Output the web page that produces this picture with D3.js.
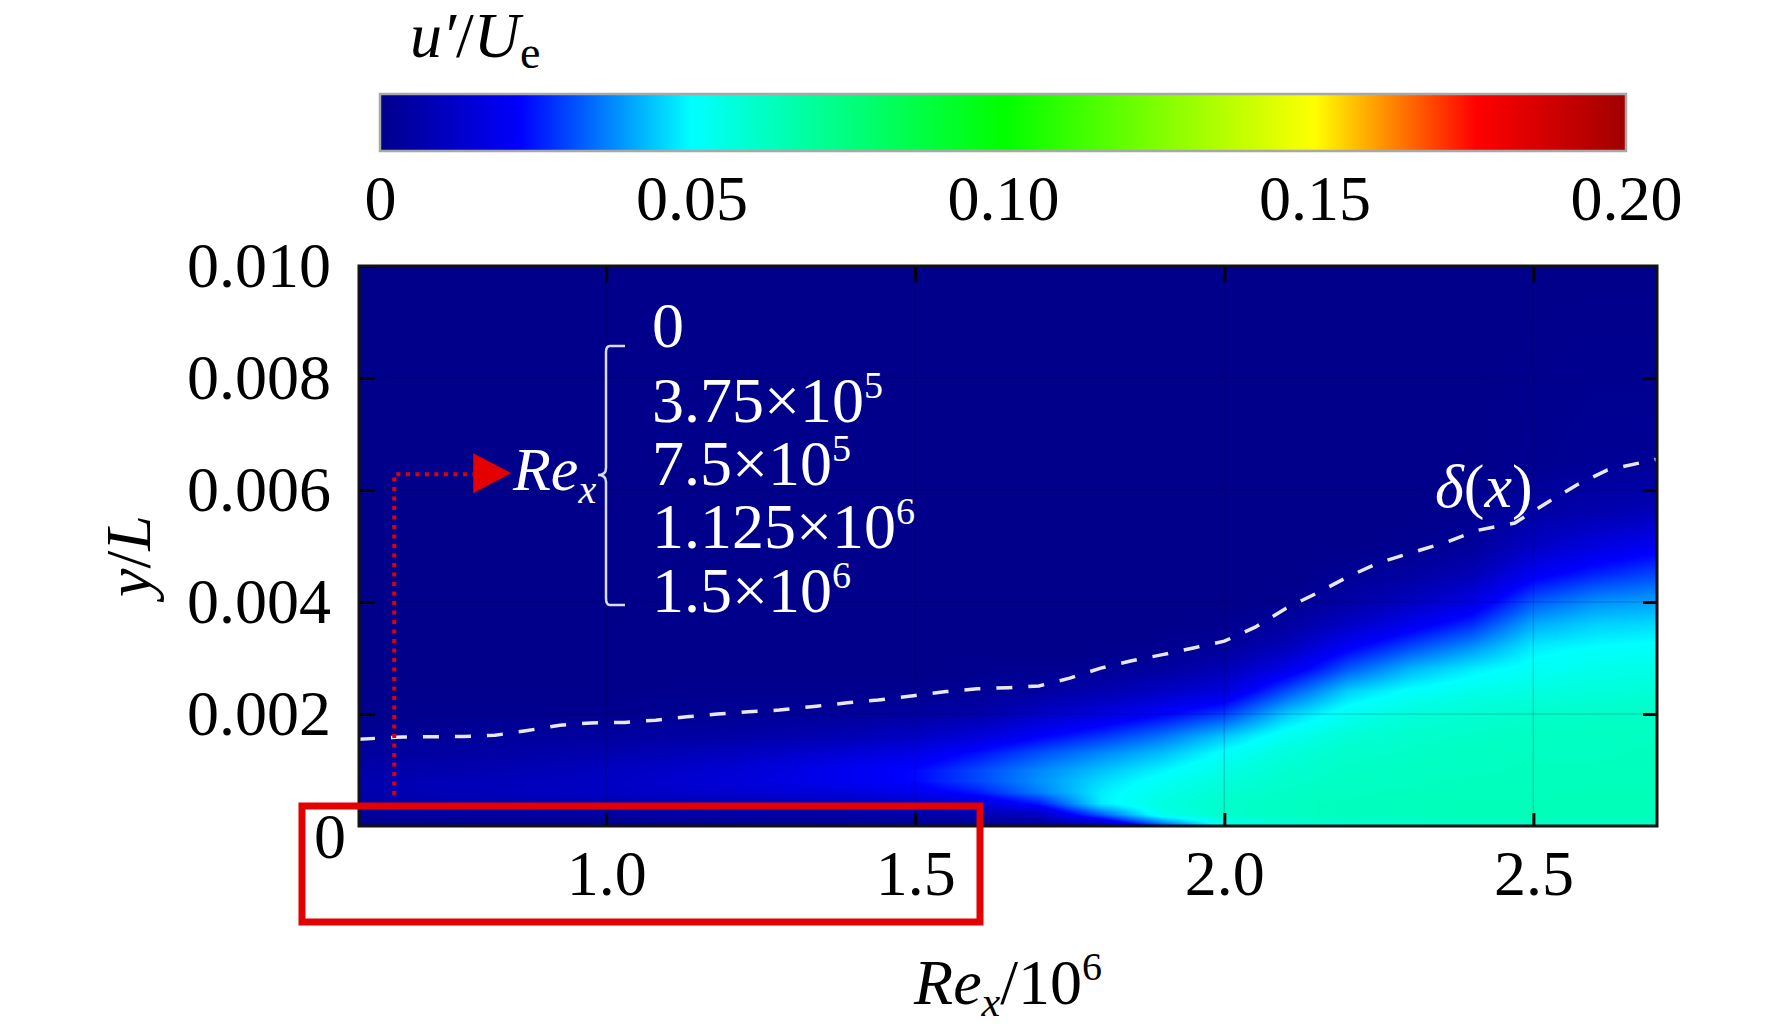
<!DOCTYPE html>
<html>
<head>
<meta charset="utf-8">
<script src="https://cdn.jsdelivr.net/npm/d3@7"></script>
<style>
  html, body { margin: 0; padding: 0; background: #fff; }
  svg { display: block; font-family: "Liberation Serif", "Times New Roman", serif; }
</style>
</head>
<body>
<script>
const width = 1772
const height = 1035

// colour map of u'/Ue
const colorStops = [0, 0.0225, 0.05, 0.10, 0.15, 0.176, 0.20]
const colorHex = ['#00008a', '#0000ff', '#00ffff', '#00ff00', '#ffff00', '#ff0000', '#a00000']
const colorTicks = [0, 0.05, 0.10, 0.15, 0.20]

// axes
const xTicks = [1.0, 1.5, 2.0, 2.5]
const yTicks = [0.002, 0.004, 0.006, 0.008, 0.010]

// field u'/Ue: one profile per Re_x station, values at yLevels
const reStations = [0.6, 0.8, 1.0, 1.2, 1.4, 1.5, 1.6, 1.7, 1.8, 1.9, 2.0, 2.1, 2.2, 2.3, 2.4, 2.5, 2.6, 2.7]
const yLevels = [0, 0.0002, 0.0004, 0.0006, 0.0008, 0.001, 0.0013, 0.0016, 0.002, 0.0024,
  0.0028, 0.0032, 0.0036, 0.004, 0.0045, 0.005, 0.0056, 0.0065, 0.01]
const profiles = [
  [0.001, 0.003, 0.006, 0.007, 0.007, 0.006, 0.004, 0.002, 0.001, 0, 0, 0, 0, 0, 0, 0, 0, 0, 0],
  [0.001, 0.004, 0.007, 0.009, 0.009, 0.007, 0.005, 0.003, 0.001, 0, 0, 0, 0, 0, 0, 0, 0, 0, 0],
  [0.001, 0.004, 0.008, 0.011, 0.011, 0.010, 0.007, 0.004, 0.001, 0, 0, 0, 0, 0, 0, 0, 0, 0, 0],
  [0.001, 0.005, 0.009, 0.013, 0.015, 0.014, 0.010, 0.005, 0.002, 0.001, 0, 0, 0, 0, 0, 0, 0, 0, 0],
  [0.002, 0.005, 0.010, 0.016, 0.020, 0.020, 0.015, 0.008, 0.003, 0.001, 0, 0, 0, 0, 0, 0, 0, 0, 0],
  [0.002, 0.006, 0.012, 0.019, 0.023, 0.023, 0.018, 0.011, 0.004, 0.001, 0, 0, 0, 0, 0, 0, 0, 0, 0],
  [0.002, 0.007, 0.015, 0.025, 0.030, 0.030, 0.024, 0.015, 0.006, 0.002, 0.001, 0, 0, 0, 0, 0, 0, 0, 0],
  [0.003, 0.010, 0.025, 0.036, 0.038, 0.037, 0.031, 0.022, 0.011, 0.004, 0.001, 0, 0, 0, 0, 0, 0, 0, 0],
  [0.006, 0.032, 0.048, 0.048, 0.046, 0.043, 0.037, 0.028, 0.016, 0.007, 0.002, 0, 0, 0, 0, 0, 0, 0, 0],
  [0.030, 0.054, 0.056, 0.054, 0.052, 0.049, 0.043, 0.035, 0.022, 0.011, 0.004, 0.001, 0, 0, 0, 0, 0, 0, 0],
  [0.052, 0.060, 0.060, 0.059, 0.057, 0.055, 0.051, 0.044, 0.029, 0.016, 0.008, 0.003, 0.001, 0, 0, 0, 0, 0, 0],
  [0.056, 0.062, 0.062, 0.061, 0.060, 0.059, 0.057, 0.053, 0.044, 0.031, 0.018, 0.009, 0.004, 0.001, 0, 0, 0, 0, 0],
  [0.058, 0.063, 0.063, 0.062, 0.062, 0.061, 0.060, 0.058, 0.053, 0.045, 0.032, 0.021, 0.011, 0.005, 0.002, 0, 0, 0, 0],
  [0.059, 0.063, 0.063, 0.063, 0.062, 0.062, 0.061, 0.060, 0.057, 0.051, 0.042, 0.030, 0.019, 0.010, 0.004, 0.001, 0, 0, 0],
  [0.060, 0.064, 0.064, 0.063, 0.063, 0.062, 0.062, 0.061, 0.059, 0.054, 0.048, 0.038, 0.027, 0.017, 0.008, 0.003, 0.001, 0, 0],
  [0.060, 0.064, 0.064, 0.063, 0.063, 0.063, 0.062, 0.062, 0.060, 0.056, 0.052, 0.048, 0.041, 0.032, 0.020, 0.011, 0.005, 0.001, 0],
  [0.060, 0.064, 0.064, 0.064, 0.063, 0.063, 0.062, 0.062, 0.061, 0.057, 0.054, 0.050, 0.045, 0.038, 0.026, 0.016, 0.007, 0.002, 0],
  [0.060, 0.064, 0.064, 0.064, 0.063, 0.063, 0.063, 0.062, 0.061, 0.058, 0.055, 0.051, 0.046, 0.040, 0.030, 0.020, 0.009, 0.002, 0]
]

// boundary layer thickness delta(x)
const deltaRe = [0.6, 0.67, 0.77, 0.82, 0.87, 0.925, 0.975, 1.03, 1.08, 1.13, 1.18, 1.23, 1.28, 1.34,
  1.39, 1.44, 1.5, 1.55, 1.6, 1.65, 1.7, 1.75, 1.8, 1.85, 1.9, 1.95, 2.0, 2.05, 2.1, 2.15, 2.2,
  2.25, 2.3, 2.36, 2.41, 2.47, 2.52, 2.57, 2.62, 2.7]
const deltaY = [0.00155, 0.00159, 0.0016, 0.00162, 0.0017, 0.0018, 0.00184, 0.00185, 0.00189, 0.00195,
  0.002, 0.00204, 0.00207, 0.00214, 0.0022, 0.00225, 0.00233, 0.0024, 0.00245, 0.00247, 0.0025,
  0.00264, 0.00282, 0.00295, 0.00306, 0.00318, 0.0033, 0.00355, 0.00389, 0.00416, 0.00445, 0.0047,
  0.00487, 0.00507, 0.00528, 0.00541, 0.00576, 0.00609, 0.00636, 0.00655]

// Re_x stations listed in the annotation
const legendLines = [
  { mant: '0', exp: '' },
  { mant: '3.75×10', exp: '5' },
  { mant: '7.5×10', exp: '5' },
  { mant: '1.125×10', exp: '6' },
  { mant: '1.5×10', exp: '6' }
]
const probeRe = 0.657
const probeY = 0.0063

const plot = { left: 359, right: 1657, top: 266, bottom: 826 }
const bar = { left: 380, right: 1626, top: 94, bottom: 151 }
const fontSize = 64
const serif = '"Liberation Serif", "Times New Roman", serif'

const svg = d3.select('body').append('svg')
  .attr('width', width)
  .attr('height', height)
svg.append('rect').attr('width', width).attr('height', height).attr('fill', '#fff')

const x = d3.scaleLinear().domain([0.6, 2.7]).range([plot.left, plot.right])
const y = d3.scaleLinear().domain([0, 0.01]).range([plot.bottom, plot.top])
const color = d3.scaleLinear().domain(colorStops).range(colorHex).interpolate(d3.interpolateRgb).clamp(true)
const cbar = d3.scaleLinear().domain([0, 0.2]).range([bar.left, bar.right])

// ---- colour bar
const grad = svg.append('defs').append('linearGradient')
  .attr('id', 'cgrad')
  .attr('x1', '0%').attr('x2', '100%')
grad.selectAll('stop').data(colorStops).enter().append('stop')
  .attr('offset', d => (d / 0.2 * 100) + '%')
  .attr('stop-color', d => color(d))
svg.append('rect')
  .attr('x', cbar(0)).attr('y', bar.top)
  .attr('width', cbar(0.2) - cbar(0)).attr('height', bar.bottom - bar.top)
  .attr('fill', 'url(#cgrad)')
  .attr('stroke', '#a8a8a8').attr('stroke-width', 2.5)

function styleAxis(g) {
  g.attr('font-family', serif).attr('font-size', fontSize)
  g.select('.domain').remove()
  g.selectAll('line').attr('stroke', '#000').attr('stroke-width', 3)
  g.selectAll('text').attr('fill', '#000')
}

svg.append('g')
  .attr('transform', `translate(0,${bar.bottom})`)
  .call(d3.axisBottom(cbar).tickValues(colorTicks).tickSize(0).tickPadding(24)
    .tickFormat(d => d === 0 ? '0' : d3.format('.2f')(d)))
  .call(styleAxis)

const title = svg.append('text').attr('x', 410).attr('y', 57).attr('font-size', fontSize)
title.append('tspan').attr('font-style', 'italic').text('u′')
title.append('tspan').text('/')
title.append('tspan').attr('font-style', 'italic').text('U')
title.append('tspan').attr('font-size', 46).attr('dy', 11).text('e')

// ---- contour field
function fieldAt(re, yl) {
  let i = d3.bisectRight(reStations, re) - 1
  i = Math.max(0, Math.min(reStations.length - 2, i))
  let j = d3.bisectRight(yLevels, yl) - 1
  j = Math.max(0, Math.min(yLevels.length - 2, j))
  const tx = Math.max(0, Math.min(1, (re - reStations[i]) / (reStations[i + 1] - reStations[i])))
  const ty = Math.max(0, Math.min(1, (yl - yLevels[j]) / (yLevels[j + 1] - yLevels[j])))
  const a = profiles[i][j], b = profiles[i + 1][j]
  const c = profiles[i][j + 1], d = profiles[i + 1][j + 1]
  return a * (1 - tx) * (1 - ty) + b * tx * (1 - ty) + c * (1 - tx) * ty + d * tx * ty
}

const pw = plot.right - plot.left
const ph = plot.bottom - plot.top
const canvas = document.createElement('canvas')
canvas.width = pw
canvas.height = ph
const ctx = canvas.getContext('2d')
const img = ctx.createImageData(pw, ph)
const lut = d3.range(1001).map(k => d3.rgb(color(k / 1000 * 0.2)))
for (let py = 0; py < ph; py++) {
  const yl = y.invert(plot.top + py + 0.5)
  for (let px = 0; px < pw; px++) {
    const re = x.invert(plot.left + px + 0.5)
    const v = fieldAt(re, yl)
    const c = lut[Math.max(0, Math.min(1000, Math.round(v / 0.2 * 1000)))]
    const o = (py * pw + px) * 4
    img.data[o] = c.r
    img.data[o + 1] = c.g
    img.data[o + 2] = c.b
    img.data[o + 3] = 255
  }
}
ctx.putImageData(img, 0, 0)
svg.append('image')
  .attr('x', plot.left).attr('y', plot.top)
  .attr('width', pw).attr('height', ph)
  .attr('preserveAspectRatio', 'none')
  .attr('href', canvas.toDataURL())

// faint grid
const grid = svg.append('g').attr('stroke', '#000030').attr('stroke-opacity', 0.16).attr('stroke-width', 1.6)
grid.selectAll('.gx').data(xTicks).enter().append('line')
  .attr('x1', d => x(d)).attr('x2', d => x(d)).attr('y1', plot.top).attr('y2', plot.bottom)
grid.selectAll('.gy').data(yTicks.slice(0, -1)).enter().append('line')
  .attr('y1', d => y(d)).attr('y2', d => y(d)).attr('x1', plot.left).attr('x2', plot.right)

// delta(x)
svg.append('path')
  .datum(deltaRe.map((d, i) => [d, deltaY[i]]))
  .attr('fill', 'none')
  .attr('stroke', '#e8e8f2')
  .attr('stroke-width', 3.5)
  .attr('stroke-dasharray', '16 16')
  .attr('d', d3.line().x(d => x(d[0])).y(d => y(d[1])))

const dl = svg.append('text').attr('x', 1435).attr('y', 507).attr('font-size', 62).attr('fill', '#fff')
dl.append('tspan').attr('font-style', 'italic').text('δ')
dl.append('tspan').text('(')
dl.append('tspan').attr('font-style', 'italic').text('x')
dl.append('tspan').text(')')

// ---- axes
svg.append('g').attr('transform', `translate(0,${plot.bottom})`)
  .call(d3.axisBottom(x).tickValues(xTicks).tickSize(-13).tickPadding(24).tickFormat(d3.format('.1f')))
  .call(styleAxis)
svg.append('g').attr('transform', `translate(0,${plot.top})`)
  .call(d3.axisTop(x).tickValues(xTicks).tickSize(-16).tickFormat(''))
  .call(styleAxis)
svg.append('g').attr('transform', `translate(${plot.left},0)`)
  .call(d3.axisLeft(y).tickValues(yTicks).tickSize(-16).tickPadding(28).tickFormat(d3.format('.3f')))
  .call(styleAxis)
svg.append('g').attr('transform', `translate(${plot.right},0)`)
  .call(d3.axisRight(y).tickValues(yTicks.slice(0, -1)).tickSize(-14).tickFormat(''))
  .call(styleAxis)

svg.append('rect')
  .attr('x', plot.left).attr('y', plot.top)
  .attr('width', pw).attr('height', ph)
  .attr('fill', 'none').attr('stroke', '#111').attr('stroke-width', 3)

svg.append('text').attr('x', 330).attr('y', 858).attr('text-anchor', 'middle')
  .attr('font-size', fontSize).text('0')

const xl = svg.append('text').attr('x', (plot.left + plot.right) / 2).attr('y', 1004)
  .attr('text-anchor', 'middle').attr('font-size', fontSize)
xl.append('tspan').attr('font-style', 'italic').text('Re')
xl.append('tspan').attr('font-style', 'italic').attr('font-size', 42).attr('dy', 12).text('x')
xl.append('tspan').attr('dy', -12).text('/10')
xl.append('tspan').attr('font-size', 40).attr('dy', -24).text('6')

const yl = svg.append('text')
  .attr('transform', `translate(150,${(plot.top + plot.bottom) / 2 + 10}) rotate(-90)`)
  .attr('text-anchor', 'middle').attr('font-size', fontSize).attr('font-style', 'italic')
yl.append('tspan').text('y')
yl.append('tspan').attr('font-style', 'normal').text('/')
yl.append('tspan').text('L')

// ---- Re_x annotation
const red = '#e30000'
svg.append('path')
  .attr('d', `M${x(probeRe)},${plot.bottom - 31}V${y(probeY) + 1}H${x(probeRe) + 79}`)
  .attr('fill', 'none').attr('stroke', red).attr('stroke-width', 4)
  .attr('stroke-dasharray', '4 5.5')
const ax = x(probeRe) + 79
const ay = y(probeY)
svg.append('path')
  .attr('d', `M${ax},${ay - 20}L${ax + 38},${ay}L${ax},${ay + 20}Z`)
  .attr('fill', red)

const rl = svg.append('text').attr('x', 513).attr('y', 490).attr('font-size', 62)
  .attr('fill', '#fff').attr('font-style', 'italic')
rl.append('tspan').text('Re')
rl.append('tspan').attr('font-size', 40).attr('dy', 13).text('x')

svg.append('path')
  .attr('d', 'M625,346H610Q606,346 606,352V468Q606,475 598,475Q606,475 606,482V598Q606,605 610,605H625')
  .attr('fill', 'none').attr('stroke', '#d8dcf2').attr('stroke-width', 2.5)

const legendBase = [347, 422, 485, 548, 612]
legendLines.forEach((d, i) => {
  const t = svg.append('text').attr('x', 652).attr('y', legendBase[i])
    .attr('font-size', fontSize).attr('fill', '#fff')
  t.append('tspan').text(d.mant)
  if (d.exp) t.append('tspan').attr('font-size', 38).attr('dy', -24).text(d.exp)
})

// highlight box
svg.append('rect')
  .attr('x', 302).attr('y', 806).attr('width', 980 - 302).attr('height', 922 - 806)
  .attr('fill', 'none').attr('stroke', red).attr('stroke-width', 7)
</script>
</body>
</html>
